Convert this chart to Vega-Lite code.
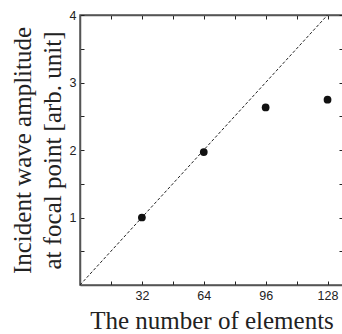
{
  "$schema": "https://vega.github.io/schema/vega-lite/v6.json",
  "autosize": "none",
  "width": 263,
  "height": 270,
  "padding": {"left": 80, "top": 15, "right": 0, "bottom": 49},
  "background": "white",
  "config": {
    "view": {"stroke": "#555", "strokeWidth": 1.5},
    "axis": {"grid": false, "domainColor": "#555", "domainWidth": 1.5, "tickColor": "#222", "tickWidth": 1, "tickSize": -4,
      "labelFont": "Liberation Sans", "labelFontSize": 12.5, "labelColor": "#222",
      "titleFont": "Liberation Serif", "titleFontSize": 25, "titleFontWeight": "normal", "titleColor": "#222"}
  },
  "datasets": {
    "pts": [
      {"n": 32, "amp": 1.0},
      {"n": 64, "amp": 1.97},
      {"n": 96, "amp": 2.63},
      {"n": 128, "amp": 2.745}
    ],
    "ideal": [
      {"n": 0, "amp": 0},
      {"n": 128, "amp": 4}
    ]
  },
  "layer": [
    {
      "data": {"name": "ideal"},
      "mark": {"type": "line", "color": "#222", "strokeWidth": 1, "strokeDash": [3, 2], "clip": true},
      "encoding": {
        "x": {"field": "n", "type": "quantitative", "scale": {"domain": [0, 136], "nice": false},
          "axis": {"orient": "bottom", "values": [16, 32, 48, 64, 80, 96, 112, 128], "labelExpr": "datum.value % 32 == 0 ? datum.label : ''", "labelPadding": 8, "title": "The number of elements", "titlePadding": 7}},
        "y": {"field": "amp", "type": "quantitative", "scale": {"domain": [0, 4], "nice": false},
          "axis": {"orient": "left", "values": [0.5, 1, 1.5, 2, 2.5, 3, 3.5, 4], "labelExpr": "datum.value % 1 == 0 ? '' + datum.value : ''", "labelPadding": 8,
            "title": ["Incident wave amplitude", "at focal point [arb. unit]"], "titlePadding": 4, "titleLineHeight": 30}}
      }
    },
    {
      "data": {"name": "pts"},
      "mark": {"type": "point", "filled": true, "color": "#111", "opacity": 1, "size": 60},
      "encoding": {
        "x": {"field": "n", "type": "quantitative",
          "axis": {"orient": "top", "values": [16, 32, 48, 64, 80, 96, 112, 128], "labels": false, "title": null}},
        "y": {"field": "amp", "type": "quantitative", "axis": {"orient": "right", "values": [0.5, 1, 1.5, 2, 2.5, 3, 3.5, 4], "labels": false, "title": null}}
      }
    }
  ],
  "resolve": {"axis": {"x": "independent", "y": "independent"}}
}
